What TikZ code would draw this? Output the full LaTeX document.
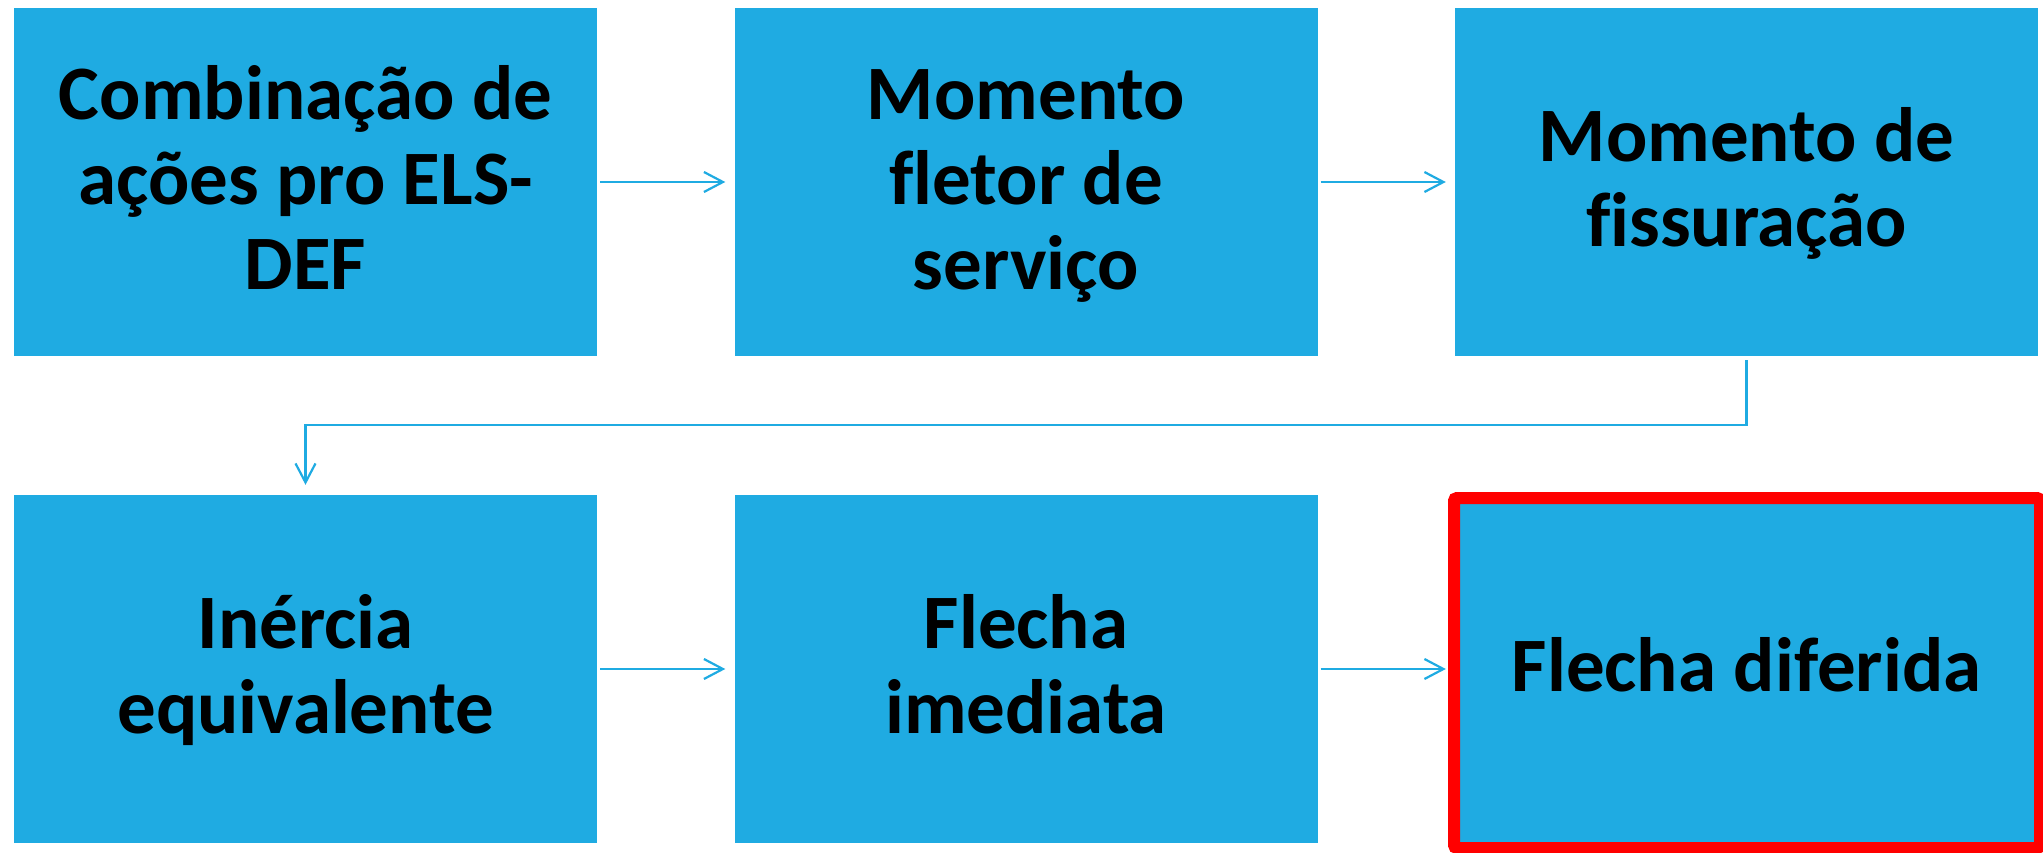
\documentclass[tikz,border=0pt]{standalone}
\usepackage{fontspec}
\setmainfont{Carlito}[Ligatures=NoCommon]
\usetikzlibrary{arrows.meta}
\definecolor{boxblue}{RGB}{31,171,226}
\definecolor{hired}{RGB}{255,0,0}
\newcommand{\lnst}{\rule[-20.5pt]{0pt}{85pt}}
\tikzset{
  stepbox/.style={fill=boxblue, draw=none, minimum width=583pt, minimum height=348pt, inner sep=0pt,
    align=center, font=\fontsize{77}{85}\selectfont\bfseries, text=black},
  arr/.style={draw=boxblue, line width=2.2pt, -{Straight Barb[length=19pt,width=20pt]}},
}
\begin{document}
\begin{tikzpicture}[x=1pt,y=-1pt]
\useasboundingbox (0,0) rectangle (2043,853);
\node[stepbox] (b1) at (305.5,182) {\lnst Combinação de\\\lnst ações pro ELS-\\\lnst DEF};
\node[stepbox] (b2) at (1026,182) {\lnst Momento\\\lnst fletor de\\\lnst serviço};
\node[stepbox] (b3) at (1746.5,182) {\lnst Momento de\\\lnst fissuração};
\node[stepbox] (b4) at (305.5,669) {\lnst Inércia\\\lnst equivalente};
\node[stepbox] (b5) at (1026,669) {\lnst Flecha\\\lnst imediata};
\node[stepbox] (b6) at (1746.5,669) {\lnst Flecha diferida};
\draw[hired, line width=12pt, rounded corners=3pt] (1454,498) rectangle (2040,848);
\coordinate (m) at (1000,425);
\draw[arr] ([xshift=3pt]b1.east) -- ([xshift=-9pt]b2.west);
\draw[arr] ([xshift=3pt]b2.east) -- ([xshift=-9pt]b3.west);
\draw[arr] ([xshift=3pt]b4.east) -- ([xshift=-9pt]b5.west);
\draw[arr] ([xshift=3pt]b5.east) -- ([xshift=-9pt]b6.west);
\draw[arr] ([yshift=-4pt]b3.south) -- (b3.south |- m) -- (b4.north |- m) -- ([yshift=10pt]b4.north);
\end{tikzpicture}
\end{document}
